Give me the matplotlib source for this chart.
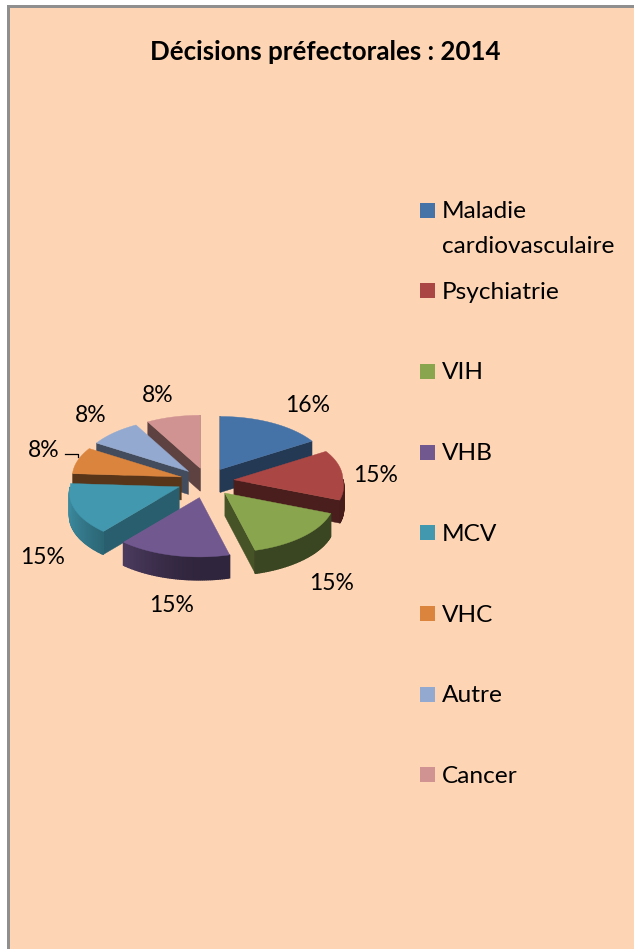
import numpy as np
import matplotlib
matplotlib.use("Agg")
import matplotlib.pyplot as plt
from matplotlib.colors import to_rgb
from matplotlib.patches import Polygon, Rectangle

plt.rcParams['font.family'] = ['Lato', 'DejaVu Sans']

title = "Décisions préfectorales : 2014"
categories = ["Maladie\ncardiovasculaire", "Psychiatrie", "VIH", "VHB", "MCV", "VHC", "Autre", "Cancer"]
values = [16, 15, 15, 15, 15, 8, 8, 8]
colors = ["#4572A7", "#AA4643", "#89A54E", "#71588F", "#4198AF", "#DB843D", "#93A9CF", "#D19392"]
cut_shade = [0.5, 0.43, 0.5, 0.5, 0.62, 0.4, 0.45, 0.45]

BG = "#FDD5B5"
CX, CY = 207, 481
RX, RY = 109, 53
EXPLODE = 27
DEPTH = 23


def shade(col, f):
    return tuple(min(1, c * f) for c in to_rgb(col))


def pt(ang, ox, oy):
    # front of the pie comes out bigger, like the 3d perspective
    a = np.radians(ang)
    s = 1 + 0.12 * max(0, -np.cos(a))
    return ox + RX * s * np.sin(a), oy - RY * s * np.cos(a)


def offset(ang):
    a = np.radians(ang)
    s = 1 + 0.3 * max(0, -np.cos(a))
    sx = s if np.sin(a) < 0 else 1
    return CX + EXPLODE * sx * np.sin(a), CY - EXPLODE * RY / RX * s * np.cos(a)


fig = plt.figure(figsize=(6.34, 9.49), dpi=100, facecolor="white")
ax = fig.add_axes([0, 0, 1, 1])
ax.set_xlim(0, 634)
ax.set_ylim(949, 0)
ax.axis("off")

ax.add_patch(Rectangle((7, 5), 627, 944, fc=BG, ec="none", zorder=0))
ax.add_patch(Rectangle((7, 5), 2.5, 944, fc="#8f8f8f", ec="none", zorder=1))
ax.add_patch(Rectangle((7, 5), 627, 2.5, fc="#8f8f8f", ec="none", zorder=1))

ax.text(325, 52, title, fontsize=18.6, fontweight="bold", ha="center", va="center", color="black")

# slices
total = sum(values)
edges = np.cumsum([0] + values) / total * 360
slices = []
for i, v in enumerate(values):
    a1, a2 = edges[i], edges[i + 1]
    ox, oy = offset((a1 + a2) / 2)
    slices.append((oy, i, a1, a2, ox))

# back slices first
for oy, i, a1, a2, ox in sorted(slices):
    col = colors[i]
    z = 5 + oy / 100
    dark = shade(col, cut_shade[i])

    for a, norm in ((a1, a1 - 90), (a2, a2 + 90)):
        if np.cos(np.radians(norm)) < 0.02:
            x, y = pt(a, ox, oy)
            ax.add_patch(Polygon([(ox, oy), (x, y), (x, y + DEPTH), (ox, oy + DEPTH)],
                                 fc=dark, ec=dark, lw=0.3, zorder=z))

    # outer wall with a little gradient
    angs = np.linspace(a1, a2, 60)
    for b1, b2 in zip(angs[:-1], angs[1:]):
        bm = (b1 + b2) / 2
        if np.cos(np.radians(bm)) < 0:
            x1, y1 = pt(b1, ox, oy)
            x2, y2 = pt(b2, ox, oy)
            f = 0.42 + 0.48 * max(0, -np.sin(np.radians(bm))) ** 1.5
            wall = shade(col, f)
            ax.add_patch(Polygon([(x1, y1), (x2, y2), (x2, y2 + DEPTH), (x1, y1 + DEPTH)],
                                 fc=wall, ec=wall, lw=1.0, zorder=z))

    arc = [pt(b, ox, oy) for b in angs]
    ax.add_patch(Polygon([(ox, oy)] + arc, fc=col, ec=col, lw=0.3, zorder=z + 0.01))

# data labels
label_xy = [(308, 405), (376, 475), (332, 583), (172, 606), (43, 557), (44, 450), (91, 415), (158, 395)]
for v, (x, y) in zip(values, label_xy):
    ax.text(x, y, f"{v}%", fontsize=16.5, ha="center", va="center", color="black", zorder=20)
ax.plot([65, 78, 78], [454, 454, 457], color="black", lw=0.9, zorder=20)

# legend
for i, (name, col) in enumerate(zip(categories, colors)):
    y = 210 + i * 80.7
    ax.add_patch(Rectangle((420, y - 7.5), 15, 15, fc=col, ec="none", zorder=3))
    lines = name.split("\n")
    for j, line in enumerate(lines):
        ax.text(442, y + 1.5 + j * 35, line, fontsize=17.6, ha="left", va="center", color="black")

fig.savefig("out.png", dpi=100, facecolor="white")
